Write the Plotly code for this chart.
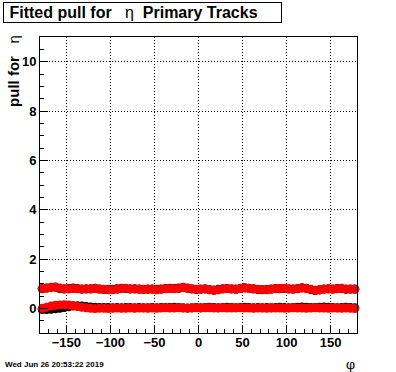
import plotly.graph_objects as go

phi = [-177.5, -172.5, -167.5, -162.5, -157.5, -152.5, -147.5, -142.5, -137.5, -132.5,
       -127.5, -122.5, -117.5, -112.5, -107.5, -102.5, -97.5, -92.5, -87.5, -82.5,
       -77.5, -72.5, -67.5, -62.5, -57.5, -52.5, -47.5, -42.5, -37.5, -32.5,
       -27.5, -22.5, -17.5, -12.5, -7.5, -2.5, 2.5, 7.5, 12.5, 17.5,
       22.5, 27.5, 32.5, 37.5, 42.5, 47.5, 52.5, 57.5, 62.5, 67.5,
       72.5, 77.5, 82.5, 87.5, 92.5, 97.5, 102.5, 107.5, 112.5, 117.5,
       122.5, 127.5, 132.5, 137.5, 142.5, 147.5, 152.5, 157.5, 162.5, 167.5,
       172.5, 177.5]

sigma_red = [0.80, 0.81, 0.84, 0.86, 0.82, 0.79, 0.78, 0.80, 0.79, 0.77,
             0.79, 0.78, 0.80, 0.78, 0.77, 0.76, 0.75, 0.77, 0.80, 0.81,
             0.79, 0.78, 0.77, 0.76, 0.78, 0.77, 0.75, 0.77, 0.79, 0.80,
             0.79, 0.80, 0.84, 0.82, 0.79, 0.77, 0.78, 0.79, 0.76, 0.72,
             0.75, 0.78, 0.80, 0.79, 0.78, 0.80, 0.82, 0.80, 0.78, 0.77,
             0.76, 0.75, 0.77, 0.79, 0.80, 0.81, 0.79, 0.77, 0.79, 0.82,
             0.80, 0.77, 0.73, 0.74, 0.77, 0.78, 0.77, 0.79, 0.81, 0.78,
             0.77, 0.77]

sigma_black = [0.79, 0.82, 0.85, 0.85, 0.80, 0.78, 0.80, 0.82, 0.80, 0.78,
               0.78, 0.79, 0.81, 0.78, 0.76, 0.77, 0.77, 0.79, 0.81, 0.80,
               0.78, 0.79, 0.78, 0.77, 0.77, 0.78, 0.77, 0.78, 0.80, 0.81,
               0.80, 0.82, 0.85, 0.81, 0.78, 0.76, 0.77, 0.78, 0.75, 0.74,
               0.77, 0.79, 0.80, 0.78, 0.77, 0.81, 0.83, 0.81, 0.79, 0.76,
               0.75, 0.76, 0.78, 0.80, 0.79, 0.80, 0.78, 0.78, 0.80, 0.83,
               0.81, 0.76, 0.72, 0.75, 0.78, 0.79, 0.78, 0.80, 0.80, 0.77,
               0.78, 0.78]

mean_red = [0.00, 0.04, 0.09, 0.12, 0.14, 0.15, 0.14, 0.11, 0.07, 0.04,
            0.02, 0.00, -0.01, 0.00, 0.00, -0.01, 0.00, 0.01, 0.00, 0.00,
            0.01, 0.00, 0.01, 0.01, 0.00, 0.01, 0.00, 0.01, 0.02, 0.01,
            0.01, 0.02, 0.01, 0.00, 0.01, 0.02, 0.01, 0.02, 0.02, 0.01,
            0.01, 0.02, 0.01, 0.01, 0.02, 0.02, 0.01, 0.01, 0.00, 0.01,
            0.01, 0.00, 0.01, 0.01, 0.01, 0.00, 0.01, 0.02, 0.01, 0.01,
            0.00, 0.01, 0.02, 0.01, 0.01, 0.00, 0.01, 0.01, 0.00, 0.01,
            0.00, -0.01]

mean_black = [-0.05, -0.05, -0.04, -0.02, 0.00, 0.03, 0.06, 0.09, 0.10, 0.09,
              0.07, 0.05, 0.04, 0.03, 0.03, 0.03, 0.02, 0.03, 0.02, 0.03,
              0.03, 0.02, 0.03, 0.02, 0.02, 0.03, 0.02, 0.03, 0.03, 0.03,
              0.04, 0.03, 0.02, 0.01, 0.02, 0.03, 0.02, 0.03, 0.04, 0.03,
              0.02, 0.03, 0.04, 0.03, 0.02, 0.03, 0.04, 0.03, 0.02, 0.03,
              0.02, 0.03, 0.02, 0.03, 0.04, 0.03, 0.02, 0.03, 0.04, 0.05,
              0.04, 0.03, 0.03, 0.04, 0.05, 0.04, 0.03, 0.02, 0.03, 0.04,
              0.03, 0.02]

x_range = [-180, 180]
y_range = [-1, 11]

fig = go.Figure()
marker_black = dict(color="black", size=9, symbol="circle", line=dict(width=0))
marker_red = dict(color="red", size=9, symbol="circle", line=dict(width=0))
fig.add_trace(go.Scatter(x=phi, y=mean_black, mode="markers", marker=marker_black, showlegend=False, cliponaxis=False))
fig.add_trace(go.Scatter(x=phi, y=sigma_black, mode="markers", marker=marker_black, showlegend=False, cliponaxis=False))
fig.add_trace(go.Scatter(x=phi, y=mean_red, mode="markers", marker=marker_red, showlegend=False, cliponaxis=False))
fig.add_trace(go.Scatter(x=phi, y=sigma_red, mode="markers", marker=marker_red, showlegend=False, cliponaxis=False))

axis_common = dict(
    showline=True, linecolor="black", linewidth=1, mirror=True,
    showgrid=True, gridcolor="black", griddash="1px,2px", gridwidth=1,
    ticks="inside", ticklen=8, tickcolor="black", tickwidth=1,
    zeroline=False, automargin=False,
    tickfont=dict(family="Liberation Sans, Arial, sans-serif", size=13, color="black", weight="bold"),
)

fig.update_xaxes(range=x_range, tickvals=[-150, -100, -50, 0, 50, 100, 150],
                 ticklabelstandoff=-3,
                 minor=dict(dtick=10, tick0=0, ticklen=4, ticks="inside", tickcolor="black", showgrid=False),
                 **axis_common)
fig.update_yaxes(range=y_range, tickvals=[0, 2, 4, 6, 8, 10],
                 minor=dict(dtick=0.5, tick0=0, ticklen=4, ticks="inside", tickcolor="black", showgrid=False),
                 **axis_common)

font_main = "Liberation Sans, Arial, sans-serif"
annotations = [
    dict(text="&nbsp;<b>Fitted pull for</b>&nbsp;&nbsp;&nbsp;η&nbsp;&nbsp;<b>Primary Tracks</b>",
         xref="paper", yref="paper", x=-0.1167, y=1.1178, xanchor="left", yanchor="top",
         showarrow=False, align="left", width=275, height=17,
         font=dict(family=font_main, size=16, color="black"),
         bordercolor="black", borderwidth=1, borderpad=1, bgcolor="white"),
    dict(text="<b>pull for</b>&nbsp;&nbsp;&nbsp;η",
         xref="paper", yref="paper", x=-0.086, y=1.013, xanchor="center", yanchor="top",
         textangle=-90, showarrow=False,
         font=dict(family=font_main, size=15, color="black")),
    dict(text="φ", xref="paper", yref="paper", x=1.0, y=-0.108, xanchor="right", yanchor="middle",
         showarrow=False, font=dict(family="DejaVu Serif, serif", size=13, color="black")),
    dict(text="<b>Wed Jun 26 20:53:22 2019</b>", xref="paper", yref="paper",
         x=-0.117, y=-0.108, xanchor="left", yanchor="middle", showarrow=False,
         font=dict(family=font_main, size=8, color="black")),
]

fig.update_layout(
    width=396, height=372,
    margin=dict(l=40, r=39, t=37, b=39, pad=0),
    paper_bgcolor="white", plot_bgcolor="white",
    annotations=annotations,
    showlegend=False,
)

fig.write_html("out.html", config={"displayModeBar": False},
               post_script="document.body.style.margin='0';document.body.style.overflow='hidden';")
